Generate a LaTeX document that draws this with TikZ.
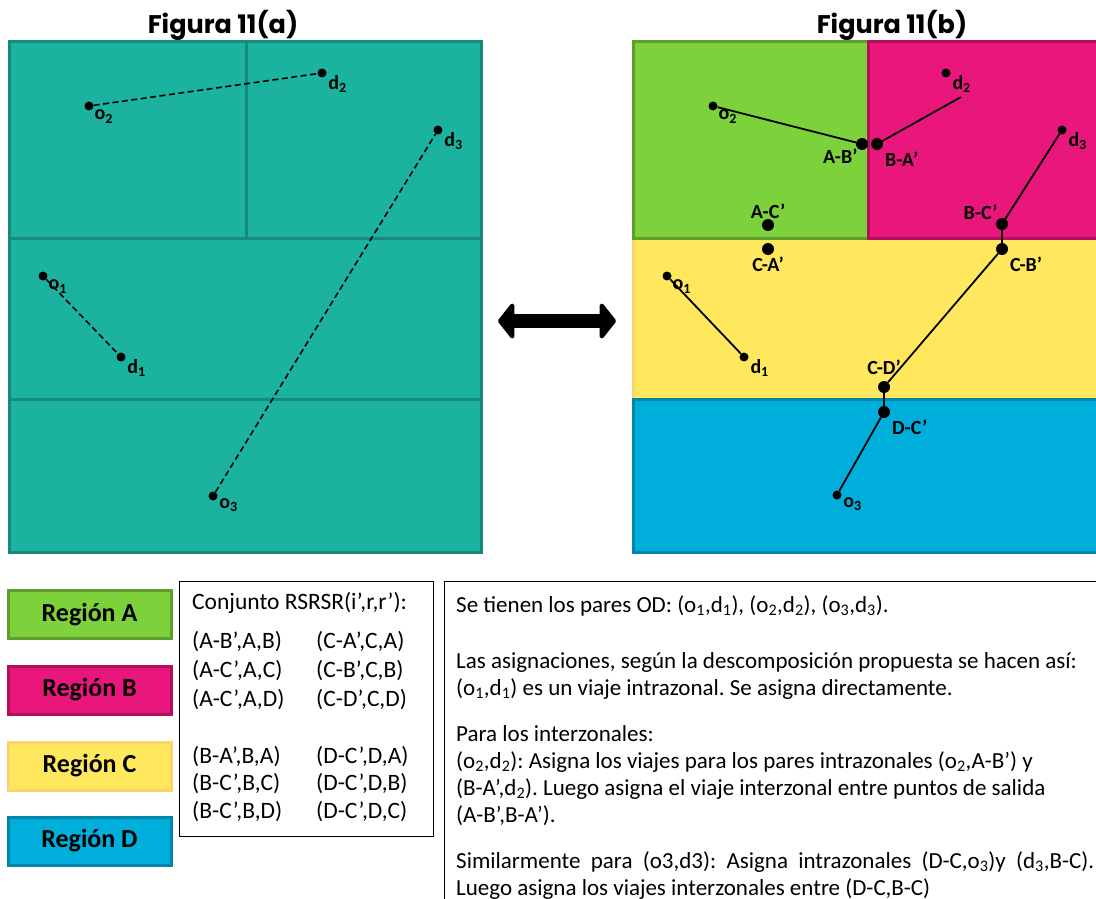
\documentclass[tikz,border=0pt]{standalone}
\usepackage{fontspec}
\setmainfont{Carlito}
\newfontfamily\figfont{Poppins}
\usetikzlibrary{arrows.meta,positioning}
\frenchspacing

\definecolor{zoneTeal}{HTML}{1BB39F}
\definecolor{zoneTealLine}{HTML}{168A79}
\definecolor{zoneA}{HTML}{7DD13B}
\definecolor{zoneALine}{HTML}{5E9E2D}
\definecolor{zoneB}{HTML}{E9177B}
\definecolor{zoneBLine}{HTML}{B3105B}
\definecolor{zoneC}{HTML}{FFE85E}
\definecolor{zoneCLine}{HTML}{FDD36B}
\definecolor{zoneD}{HTML}{00AEDC}
\definecolor{zoneDLine}{HTML}{0387A8}

\begin{document}
\begin{tikzpicture}
  [
    x=1pt, y=-1pt,
    ODDot/.style={circle, fill=black, inner sep=0pt, minimum size=9pt},
    ExitDot/.style={circle, fill=black, inner sep=0pt, minimum size=12pt},
    PtLabel/.style={font=\bfseries\fontsize{20}{20}\selectfont, inner sep=0pt},
    DesireLine/.style={line width=1.6pt, dash pattern=on 6pt off 3.5pt},
    TripLine/.style={line width=1.8pt},
    RegionBox/.style={draw, line width=3pt, minimum width=163pt, minimum height=48pt, font=\bfseries\fontsize{26}{26}\selectfont},
    PairText/.style={anchor=base west, inner sep=0pt, font=\fontsize{23.5}{23.5}\selectfont},
    FigTitle/.style={anchor=base, inner sep=0pt, font=\figfont\bfseries\fontsize{25.5}{25.5}\selectfont},
  ]

  \useasboundingbox (0,0) rectangle (1096,899);
  \clip (0,0) rectangle (1096,899);

  % Figura 11(a)
  \node [FigTitle] (titleA) at (223,34) {Figura 11(a)};
  \draw [fill=zoneTeal, draw=zoneTealLine, line width=3pt] (9,42) rectangle (481,552);
  \draw [zoneTealLine, line width=3pt] (246,42) -- (246,238) (9,238) -- (481,238) (9,399) -- (481,399);

  \node [ODDot, label={[PtLabel, label distance=2pt]-35:o\textsubscript{2}}] (o2a) at (89,106) {};
  \node [ODDot, label={[PtLabel, label distance=2pt]-20:d\textsubscript{2}}] (d2a) at (322,73) {};
  \node [ODDot, label={[PtLabel, label distance=2pt]-20:d\textsubscript{3}}] (d3a) at (438,130) {};
  \node [ODDot, label={[PtLabel, label distance=2pt]-35:o\textsubscript{1}}] (o1a) at (43,276) {};
  \node [ODDot, label={[PtLabel, label distance=2pt]-20:d\textsubscript{1}}] (d1a) at (121,357) {};
  \node [ODDot, label={[PtLabel, label distance=2pt]-25:o\textsubscript{3}}] (o3a) at (213,496) {};

  \draw [DesireLine] (o2a) -- (d2a);
  \draw [DesireLine] (o1a) -- (d1a);
  \draw [DesireLine] (o3a) -- (d3a);

  % flecha doble
  \coordinate (arrL) at (498,321);
  \coordinate (arrR) at (616,321);
  \draw [line width=14pt, {Triangle[length=17pt,width=42pt,round]}-{Triangle[length=17pt,width=42pt,round]}] (arrL) -- (arrR);

  % Figura 11(b)
  \node [FigTitle] (titleB) at (892,34) {Figura 11(b)};
  \draw [fill=zoneC, draw=zoneCLine, line width=3pt] (633,238) rectangle (1110,399);
  \draw [fill=zoneD, draw=zoneDLine, line width=3pt] (633,399) rectangle (1110,552);
  \draw [fill=zoneA, draw=zoneALine, line width=3pt] (633,42) rectangle (868,238);
  \draw [fill=zoneB, draw=zoneBLine, line width=3pt] (868,42) rectangle (1110,238);

  \node [ODDot, label={[PtLabel, label distance=2pt]-35:o\textsubscript{2}}] (o2b) at (713,106) {};
  \node [ODDot, label={[PtLabel, label distance=2pt]-20:d\textsubscript{2}}] (d2b) at (946,73) {};
  \node [ODDot, label={[PtLabel, label distance=2pt]-20:d\textsubscript{3}}] (d3b) at (1062,130) {};
  \node [ODDot, label={[PtLabel, label distance=2pt]-35:o\textsubscript{1}}] (o1b) at (667,276) {};
  \node [ODDot, label={[PtLabel, label distance=2pt]-20:d\textsubscript{1}}] (d1b) at (744,357) {};
  \node [ODDot, label={[PtLabel, label distance=2pt]-25:o\textsubscript{3}}] (o3b) at (837,495) {};

  \node [ExitDot, label={[PtLabel]below left:A-B’}] (AB) at (862,144) {};
  \node [ExitDot, label={[PtLabel, label distance=5pt]below right:B-A’}] (BA) at (877,144) {};
  \node [ExitDot, label={[PtLabel]above:A-C’}] (AC) at (768,225) {};
  \node [ExitDot, label={[PtLabel, label distance=2pt]below:C-A’}] (CA) at (768,249) {};
  \node [ExitDot, label={[PtLabel]above left:B-C’}] (BC) at (1002,224) {};
  \node [ExitDot, label={[PtLabel, label distance=5pt]below right:C-B’}] (CB) at (1002,249) {};
  \node [ExitDot, label={[PtLabel, label distance=6pt]above:C-D’}] (CD) at (884,387) {};
  \node [ExitDot, label={[PtLabel, label distance=5pt]below right:D-C’}] (DC) at (884,412) {};
  \coordinate (BAend) at (961,97);

  \draw [TripLine] (o2b) -- (AB);
  \draw [TripLine] (BA) -- (BAend);
  \draw [TripLine] (o1b) -- (d1b);
  \draw [TripLine] (d3b) -- (BC) -- (CB) -- (CD) -- (DC) -- (o3b);

  % leyenda de regiones
  \node [RegionBox, fill=zoneA, draw=zoneALine] (legA) at (89.5,614.5) {Región A};
  \node [RegionBox, fill=zoneB, draw=zoneBLine] (legB) at (89.5,690) {Región B};
  \node [RegionBox, fill=zoneC, draw=zoneCLine] (legC) at (89.5,766) {Región C};
  \node [RegionBox, fill=zoneD, draw=zoneDLine] (legD) at (89.5,841) {Región D};

  % conjunto RSRSR
  \node [draw, line width=0.8pt, minimum width=254pt, minimum height=255pt, inner sep=0pt] (rsrsr) at (306,708.5) {};
  \node [PairText] (rsTitle) at (192,609) {Conjunto RSRSR(i’,r,r’):};
  \foreach \pl/\pr/\y in {{(A-B’,A,B)}/{(C-A’,C,A)}/648, {(A-C’,A,C)}/{(C-B’,C,B)}/677, {(A-C’,A,D)}/{(C-D’,C,D)}/706,
                          {(B-A’,B,A)}/{(D-C’,D,A)}/763, {(B-C’,B,C)}/{(D-C’,D,B)}/790, {(B-C’,B,D)}/{(D-C’,D,C)}/818}
  {
    \node [PairText] (pl\y) at (192,\y) {\pl};
    \node [PairText] (pr\y) at (316,\y) {\pr};
  }

  % texto explicativo
  \draw [line width=0.8pt] (444,581) rectangle (1120,930);
  \node [anchor=north west, inner sep=0pt, align=left, font=\fontsize{23}{27}\selectfont] (notes) at (456,595)
  {Se tienen los pares OD: (o\textsubscript{1},d\textsubscript{1}), (o\textsubscript{2},d\textsubscript{2}), (o\textsubscript{3},d\textsubscript{3}).\\[29pt]
   Las asignaciones, según la descomposición propuesta se hacen así:\\
   (o\textsubscript{1},d\textsubscript{1}) es un viaje intrazonal. Se asigna directamente.\\[19pt]
   Para los interzonales:\\
   (o\textsubscript{2},d\textsubscript{2}): Asigna los viajes para los pares intrazonales (o\textsubscript{2},A-B’) y\\
   (B-A’,d\textsubscript{2}). Luego asigna el viaje interzonal entre puntos de salida\\
   (A-B’,B-A’).\\[19pt]
   \makebox[638pt][s]{Similarmente para (o3,d3): Asigna intrazonales (D-C,o\textsubscript{3})y (d\textsubscript{3},B-C).}\\
   Luego asigna los viajes interzonales entre (D-C,B-C)};
\end{tikzpicture}
\end{document}
